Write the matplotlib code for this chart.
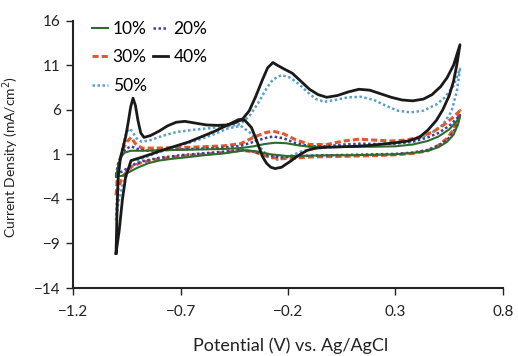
import matplotlib
matplotlib.use("Agg")
import matplotlib.pyplot as plt

plt.rcParams['font.family'] = ['Lato', 'DejaVu Sans']

# cyclic voltammograms: forward scan from the cathodic tip, then reverse back to it
v10 = [-1.0, -0.99, -0.98, -0.96, -0.93, -0.88, -0.8, -0.7, -0.6, -0.5, -0.42, -0.36, -0.31, -0.26,
       -0.21, -0.15, -0.08, 0.0, 0.1, 0.2, 0.3, 0.38, 0.45, 0.5, 0.55, 0.58, 0.6,
       0.59, 0.57, 0.54, 0.5, 0.45, 0.38, 0.3, 0.2, 0.1, 0.0, -0.1, -0.2, -0.28, -0.35, -0.4,
       -0.5, -0.59, -0.66, -0.74, -0.8, -0.85, -0.9, -0.94, -0.97, -1.0]
i10 = [-1.5, -0.3, 0.6, 1.2, 1.4, 1.4, 1.45, 1.5, 1.55, 1.6, 1.7, 1.9, 2.15, 2.3,
       2.25, 2.0, 1.8, 1.8, 1.85, 1.85, 1.9, 2.1, 2.5, 3.0, 3.8, 4.6, 5.2,
       4.3, 3.2, 2.4, 1.8, 1.4, 1.15, 1.0, 0.95, 0.9, 0.9, 0.85, 0.8, 1.0, 1.35, 1.45,
       1.1, 0.9, 0.7, 0.5, 0.3, 0.0, -0.5, -1.0, -1.4, -1.5]

v20 = [-1.0, -0.99, -0.975, -0.955, -0.93, -0.9, -0.86, -0.8, -0.7, -0.6, -0.5, -0.42, -0.36, -0.31,
       -0.27, -0.22, -0.17, -0.1, -0.02, 0.06, 0.14, 0.22, 0.3, 0.38, 0.45, 0.5, 0.55, 0.58, 0.6,
       0.59, 0.57, 0.54, 0.5, 0.45, 0.38, 0.3, 0.2, 0.1, 0.0, -0.1, -0.18, -0.24, -0.3, -0.36,
       -0.42, -0.5, -0.6, -0.7, -0.8, -0.88, -0.93, -0.97, -1.0]
i20 = [-1.3, 0.0, 1.0, 1.6, 1.9, 1.6, 1.4, 1.45, 1.55, 1.65, 1.75, 1.95, 2.4, 2.8,
       3.0, 2.8, 2.3, 1.9, 1.9, 2.1, 2.2, 2.15, 2.2, 2.4, 2.9, 3.4, 4.2, 4.9, 5.4,
       4.5, 3.5, 2.6, 2.0, 1.5, 1.2, 1.05, 1.0, 0.95, 0.9, 0.85, 0.75, 0.65, 0.9, 1.3,
       1.5, 1.3, 1.1, 0.9, 0.6, 0.2, -0.3, -0.9, -1.3]

v30 = [-1.0, -0.995, -0.985, -0.97, -0.95, -0.93, -0.91, -0.88, -0.8, -0.7, -0.6, -0.5, -0.42, -0.36,
       -0.31, -0.27, -0.22, -0.17, -0.1, -0.02, 0.06, 0.13, 0.2, 0.28, 0.35, 0.42, 0.48, 0.53, 0.57, 0.6,
       0.59, 0.57, 0.54, 0.5, 0.45, 0.38, 0.3, 0.2, 0.1, 0.0, -0.1, -0.18, -0.24, -0.3, -0.36,
       -0.42, -0.5, -0.6, -0.7, -0.8, -0.88, -0.93, -0.97, -1.0]
i30 = [-3.6, -2.0, 0.0, 1.5, 2.4, 2.9, 2.2, 1.7, 1.7, 1.75, 1.85, 1.95, 2.2, 2.9,
       3.4, 3.6, 3.3, 2.7, 2.1, 2.1, 2.5, 2.7, 2.6, 2.5, 2.6, 3.0, 3.6, 4.4, 5.2, 5.9,
       4.9, 3.8, 2.8, 2.0, 1.4, 1.1, 0.95, 0.85, 0.8, 0.75, 0.7, 0.55, 0.5, 0.8, 1.3,
       1.45, 1.2, 1.0, 0.8, 0.5, 0.1, -0.4, -1.5, -3.6]

v40 = [-1.0, -0.995, -0.99, -0.98, -0.967, -0.955, -0.944, -0.932, -0.921, -0.91, -0.898, -0.885,
       -0.87, -0.84, -0.8, -0.76, -0.72, -0.68, -0.63, -0.58, -0.53, -0.48, -0.44, -0.41, -0.38,
       -0.35, -0.32, -0.295, -0.27, -0.25, -0.22, -0.18, -0.14, -0.1, -0.06, -0.02, 0.03, 0.08,
       0.13, 0.18, 0.23, 0.28, 0.33, 0.38, 0.43, 0.47, 0.51, 0.54, 0.57, 0.6,
       0.585, 0.57, 0.55, 0.52, 0.49, 0.45, 0.41, 0.36, 0.3, 0.24, 0.18, 0.12, 0.05, -0.02,
       -0.07, -0.11, -0.15, -0.19, -0.23, -0.26, -0.28, -0.3, -0.32, -0.345, -0.37, -0.4,
       -0.43, -0.48, -0.54, -0.6, -0.66, -0.72, -0.78, -0.84, -0.89, -0.93, -0.955, -0.97,
       -0.985, -1.0]
i40 = [-10.1, -5.0, -1.5, 0.5, 1.8, 3.0, 4.5, 6.3, 7.3, 6.5, 4.8, 3.4,
       2.9, 3.1, 3.6, 4.2, 4.6, 4.7, 4.5, 4.3, 4.25, 4.3, 4.6, 5.0, 5.9,
       7.5, 9.3, 10.7, 11.3, 11.0, 10.6, 10.1, 9.2, 8.3, 7.7, 7.4, 7.6, 8.0,
       8.3, 8.2, 7.8, 7.4, 7.1, 7.0, 7.2, 7.7, 8.6, 9.6, 11.0, 13.3,
       11.0, 9.2, 7.6, 6.0, 4.8, 3.7, 2.9, 2.5, 2.3, 2.15, 2.0, 1.9, 1.85, 1.8,
       1.7, 1.45, 0.9, 0.2, -0.45, -0.6, -0.45, 0.0, 0.8, 2.5, 4.0, 4.8,
       4.9, 4.3, 3.6, 3.0, 2.4, 1.95, 1.5, 1.0, 0.6, 0.3, -1.5, -4.0,
       -7.5, -10.1]

v50 = [-1.0, -0.995, -0.985, -0.97, -0.955, -0.94, -0.925, -0.905, -0.88, -0.84, -0.78, -0.72,
       -0.64, -0.56, -0.48, -0.42, -0.38, -0.34, -0.3, -0.27, -0.23, -0.19, -0.15, -0.11, -0.07,
       -0.03, 0.02, 0.08, 0.14, 0.2, 0.26, 0.31, 0.37, 0.43, 0.49, 0.53, 0.57, 0.6,
       0.585, 0.56, 0.52, 0.46, 0.4, 0.3, 0.2, 0.1, 0.0, -0.08, -0.14, -0.2, -0.25, -0.29,
       -0.33, -0.37, -0.42, -0.48, -0.55, -0.62, -0.7, -0.78, -0.85, -0.9, -0.94, -0.97,
       -0.99, -1.0]
i50 = [-6.4, -3.5, -0.5, 1.8, 3.2, 3.9, 3.6, 2.8, 2.4, 2.6, 3.1, 3.5,
       3.75, 3.95, 4.15, 4.4, 5.3, 6.7, 8.4, 9.4, 9.9, 9.6, 8.9, 8.0, 7.2,
       6.9, 7.1, 7.4, 7.45, 7.1, 6.4, 5.9, 5.7, 5.9, 6.6, 7.4, 8.7, 10.6,
       8.0, 5.8, 4.3, 3.3, 2.7, 2.3, 2.05, 1.9, 1.8, 1.65, 1.3, 0.7, 0.4, 0.7,
       1.8, 3.3, 4.2, 3.9, 3.2, 2.6, 2.0, 1.4, 0.8, 0.3, -0.8, -2.5,
       -4.5, -6.4]

fig = plt.figure(figsize=(5.18, 3.56), dpi=100)
ax = fig.add_axes([0.141, 0.191, 0.830, 0.751])

l50, = ax.plot(v50, i50, color='#5b9fc9', lw=1.8, ls=(0, (1, 1)), label='50%', zorder=1)
l30, = ax.plot(v30, i30, color='#e4572e', lw=2.2, ls=(0, (2, 1)), label='30%', zorder=2)
l20, = ax.plot(v20, i20, color='#3b3f9c', lw=1.8, ls=(0, (1, 1)), label='20%', zorder=3)
l10, = ax.plot(v10, i10, color='#2e6b2e', lw=1.5, label='10%', zorder=4)
l40, = ax.plot(v40, i40, color='#1a1a1a', lw=2.0, label='40%', zorder=5)

ax.set_xlim(-1.2, 0.8)
ax.set_ylim(-14, 16)
ax.set_xticks([-1.2, -0.7, -0.2, 0.3, 0.8])
ax.set_yticks([-14, -9, -4, 1, 6, 11, 16])
ax.set_xticklabels(['\u22121.2', '\u22120.7', '\u22120.2', '0.3', '0.8'])
ax.set_yticklabels(['\u221214', '\u22129', '\u22124', '1', '6', '11', '16'])

for s in ['top', 'right']:
    ax.spines[s].set_visible(False)
for s in ['left', 'bottom']:
    ax.spines[s].set_linewidth(1.5)
    ax.spines[s].set_color('#222222')
ax.tick_params(direction='out', length=5, width=1.0, labelsize=11, colors='#222222')
ax.tick_params(axis='x', pad=7)
ax.tick_params(axis='y', pad=4)

ax.set_xlabel('Potential (V) vs. Ag/AgCl', fontsize=13, color='#222222')
ax.set_ylabel('Current Density (mA/cm$^2$)', fontsize=10, color='#222222')
ax.xaxis.set_label_coords(0.505, -0.185)
ax.yaxis.set_label_coords(-0.12, 0.49)

ax.legend(handles=[l10, l30, l50, l20, l40], ncol=2, loc='upper left',
          bbox_to_anchor=(0.044, 1.0), frameon=False, fontsize=12.5,
          handlelength=0.9, handletextpad=0.3, columnspacing=0.35,
          labelspacing=0.72, borderpad=0, borderaxespad=0)

fig.savefig('out.png', dpi=100)
